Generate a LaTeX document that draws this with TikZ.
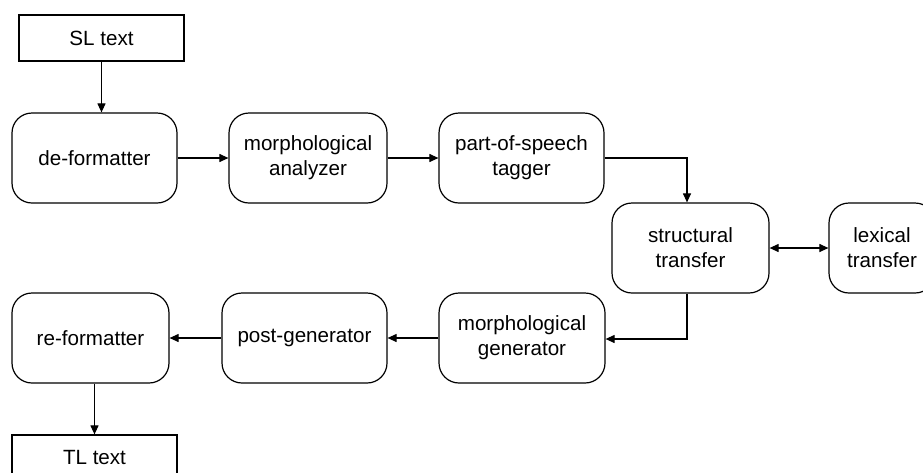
\documentclass[tikz,border=0pt]{standalone}
\usepackage{fontspec}
\setmainfont{Liberation Sans}
\usetikzlibrary{arrows.meta}
\begin{document}
\begin{tikzpicture}[x=1pt,y=-1pt,
  proc/.style={draw,line width=1.2pt,rounded corners=20pt,inner sep=0pt,align=center,
    font=\fontsize{20.6pt}{25pt}\selectfont},
  txtbox/.style={draw,line width=1.2pt,inner sep=0pt,align=center,
    font=\fontsize{20.6pt}{25pt}\selectfont},
  flow/.style={line width=1.1pt,-{Triangle[length=9pt,width=8pt]}},
  biflow/.style={line width=1.1pt,{Triangle[length=9pt,width=8pt]}-{Triangle[length=9pt,width=8pt]}}]
\useasboundingbox (0,0) rectangle (923,472);
\clip (0,0) rectangle (923,472);
\node[txtbox,minimum width=165pt,minimum height=46pt] (sl) at (101.5,38) {SL text};
\node[proc,minimum width=165pt,minimum height=90pt] (de) at (94.5,158) {de-formatter};
\node[proc,minimum width=158pt,minimum height=90pt] (ma) at (308,158) {morphological\\analyzer};
\node[proc,minimum width=165pt,minimum height=90pt] (pos) at (521.5,158) {part-of-speech\\tagger};
\node[proc,minimum width=157pt,minimum height=90pt] (st) at (690.5,248) {structural\\transfer};
\node[proc,minimum width=106pt,minimum height=90pt] (lt) at (882,248) {lexical\\transfer};
\node[proc,minimum width=166pt,minimum height=90pt] (mg) at (522,338) {morphological\\generator};
\node[proc,minimum width=165pt,minimum height=90pt] (pg) at (304.5,338) {post-generator};
\node[proc,minimum width=157pt,minimum height=90pt] (re) at (90.5,338) {re-formatter};
\node[txtbox,minimum width=165pt,minimum height=46pt] (tl) at (94.5,458) {TL text};
\coordinate (c1) at (687,158);
\coordinate (c2) at (687,339);
\draw[flow] (sl.south) -- (sl.south |- de.north);
\draw[flow] (de) -- (ma);
\draw[flow] (ma) -- (pos);
\draw[flow] (pos.east |- c1) -- (c1) -- (c1 |- st.north);
\draw[biflow] (st) -- (lt);
\draw[flow] (c1 |- st.south) -- (c2) -- (mg.east |- c2);
\draw[flow] (mg) -- (pg);
\draw[flow] (pg) -- (re);
\draw[flow] (re.south -| tl.north) -- (tl.north);
\end{tikzpicture}
\end{document}
